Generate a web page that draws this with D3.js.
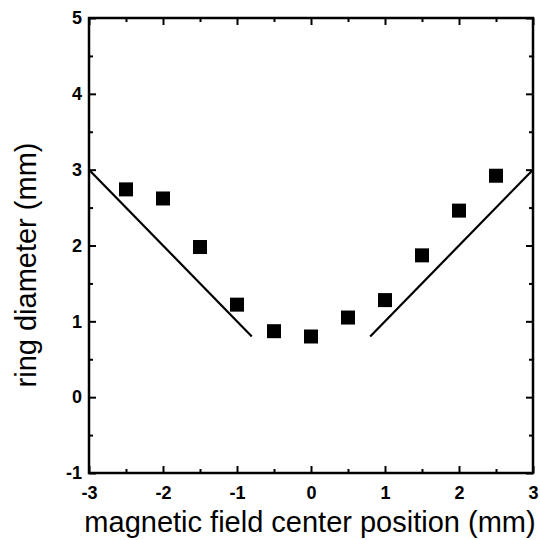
<!DOCTYPE html>
<html>
<head>
<meta charset="utf-8">
<script src="https://cdn.jsdelivr.net/npm/d3@7"></script>
<style>
  body { margin: 0; background: #fff; }
  svg text { font-family: "Liberation Sans", Arial, sans-serif; }
</style>
</head>
<body>
<div id="chart"></div>
<script>
const positions = [-2.5, -2.0, -1.5, -1.0, -0.5, 0.0, 0.5, 1.0, 1.5, 2.0, 2.5];
const diameters = [2.74, 2.62, 1.98, 1.22, 0.87, 0.80, 1.05, 1.28, 1.87, 2.46, 2.92];
const leftLine = [[-3, 3], [-0.8, 0.8]];
const rightLine = [[0.8, 0.8], [3, 3]];
const xTicks = [-3, -2, -1, 0, 1, 2, 3];
const yTicks = [-1, 0, 1, 2, 3, 4, 5];
const xMinor = [-2.5, -1.5, -0.5, 0.5, 1.5, 2.5];
const yMinor = [-0.5, 0.5, 1.5, 2.5, 3.5, 4.5];

const width = 540, height = 540;
const margin = { left: 89, right: 7, top: 18, bottom: 67 };
const chartW = width - margin.left - margin.right;
const chartH = height - margin.top - margin.bottom;

const svg = d3.select('#chart').append('svg')
  .attr('width', width)
  .attr('height', height);

const xScale = d3.scaleLinear().domain([-3, 3]).range([0, chartW]);
const yScale = d3.scaleLinear().domain([-1, 5]).range([chartH, 0]);

const g = svg.append('g').attr('transform', `translate(${margin.left},${margin.top})`);

// frame
g.append('rect')
  .attr('width', chartW).attr('height', chartH)
  .attr('fill', 'none').attr('stroke', '#000').attr('stroke-width', 2.5);

function addAxis(axis, transform, cls) {
  const a = g.append('g').attr('class', cls).attr('transform', transform).call(axis);
  a.select('.domain').remove();
  a.selectAll('line').attr('stroke', '#000').attr('stroke-width', 2);
  return a;
}

function styleLabels(a) {
  a.selectAll('text')
    .style('font-size', '18px')
    .style('font-weight', 'bold')
    .style('font-family', '"Liberation Sans", Arial, sans-serif')
    .attr('fill', '#000');
}

// inward major ticks with labels (plain hyphen for negatives, as in the original)
const bottom = addAxis(d3.axisBottom(xScale).tickValues(xTicks).tickSize(-7).tickPadding(13)
  .tickFormat(d => String(d)), `translate(0,${chartH})`, 'axis-x');
styleLabels(bottom);

const left = addAxis(d3.axisLeft(yScale).tickValues(yTicks).tickSize(-7).tickPadding(7)
  .tickFormat(d => String(d)), 'translate(0,0)', 'axis-y');
styleLabels(left);

// opposite sides and minor ticks
addAxis(d3.axisTop(xScale).tickValues(xTicks).tickSize(-7).tickFormat(''), 'translate(0,0)', 'axis-x2');
addAxis(d3.axisRight(yScale).tickValues(yTicks).tickSize(-7).tickFormat(''), `translate(${chartW},0)`, 'axis-y2');
addAxis(d3.axisBottom(xScale).tickValues(xMinor).tickSize(-4).tickFormat(''), `translate(0,${chartH})`, 'minor');
addAxis(d3.axisTop(xScale).tickValues(xMinor).tickSize(-4).tickFormat(''), 'translate(0,0)', 'minor');
addAxis(d3.axisLeft(yScale).tickValues(yMinor).tickSize(-4).tickFormat(''), 'translate(0,0)', 'minor');
addAxis(d3.axisRight(yScale).tickValues(yMinor).tickSize(-4).tickFormat(''), `translate(${chartW},0)`, 'minor');

// guide lines
const line = d3.line().x(d => xScale(d[0])).y(d => yScale(d[1]));
[leftLine, rightLine].forEach(seg => {
  g.append('path')
    .attr('d', line(seg))
    .attr('fill', 'none')
    .attr('stroke', '#000')
    .attr('stroke-width', 2.2);
});

// square markers
const size = 14;
g.selectAll('.point')
  .data(positions.map((x, i) => [x, diameters[i]]))
  .enter()
  .append('rect')
  .attr('class', 'point')
  .attr('x', d => xScale(d[0]) - size / 2)
  .attr('y', d => yScale(d[1]) - size / 2)
  .attr('width', size)
  .attr('height', size)
  .attr('fill', '#000');

// axis titles
svg.append('text')
  .attr('x', 310)
  .attr('y', 532)
  .attr('text-anchor', 'middle')
  .attr('font-size', 29)
  .text('magnetic field center position (mm)');

svg.append('text')
  .attr('transform', 'translate(36,265) rotate(-90)')
  .attr('text-anchor', 'middle')
  .attr('font-size', 29)
  .text('ring diameter (mm)');
</script>
</body>
</html>
